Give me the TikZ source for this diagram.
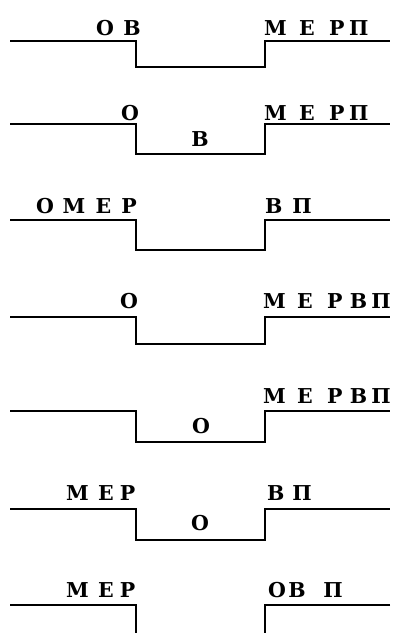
\documentclass[tikz,border=0pt]{standalone}
\usepackage{fontspec}
\setmainfont{DejaVu Serif}
\begin{document}
\begin{tikzpicture}[x=1pt,y=-1pt,
  track/.style={line width=2.1pt},
  lbl/.style={inner sep=0pt,anchor=base west,font=\fontsize{20.5}{20.5}\selectfont\bfseries}]
\useasboundingbox (0,0) rectangle (395,633);
% rows: top y, bottom y
\foreach \t/\b/\n in {41/67/1,124/154/2,220/250/3,317/344/4,411/442/5,509/540/6}{
  \coordinate (s\n) at (10,\t);
  \coordinate (e\n) at (390,\t);
  \draw[track] (s\n) -- (136,\t) -- (136,\b) -- (265,\b) -- (265,\t) -- (e\n);
}
\coordinate (s7) at (10,605);
\coordinate (e7) at (390,605);
\draw[track] (s7) -- (136,605) -- (136,633);
\draw[track] (e7) -- (265,605) -- (265,633);
% labels
\node[lbl] (l1) at (96,35) {О\hspace{0.45em}В};
\node[lbl] (r1) at (264,35) {М\hspace{0.6em}Е\hspace{0.7em}Р\hspace{0.22em}П};
\node[lbl] (l2) at (121,120) {О};
\node[lbl,anchor=base] (m2) at (200,146) {В};
\node[lbl] (r2) at (264,120) {М\hspace{0.6em}Е\hspace{0.7em}Р\hspace{0.22em}П};
\node[lbl] (l3) at (36,213) {О\hspace{0.42em}М\hspace{0.5em}Е\hspace{0.5em}Р};
\node[lbl] (r3) at (265,213) {В\hspace{0.48em}П};
\node[lbl] (l4) at (120,308) {О};
\node[lbl] (r4) at (263,308) {М\hspace{0.55em}Е\hspace{0.7em}Р\hspace{0.36em}В\hspace{0.2em}П};
\node[lbl,anchor=base] (m5) at (201,433) {О};
\node[lbl] (r5) at (263,403) {М\hspace{0.55em}Е\hspace{0.7em}Р\hspace{0.36em}В\hspace{0.2em}П};
\node[lbl] (l6) at (66,500) {М\hspace{0.45em}Е\hspace{0.3em}Р};
\node[lbl] (r6) at (267,500) {В\hspace{0.38em}П};
\node[lbl,anchor=base] (m6) at (200,530) {О};
\node[lbl] (l7) at (66,597) {М\hspace{0.45em}Е\hspace{0.3em}Р};
\node[lbl] (r7) at (268,597) {О\hspace{0.12em}В\hspace{0.85em}П};
\end{tikzpicture}
\end{document}
